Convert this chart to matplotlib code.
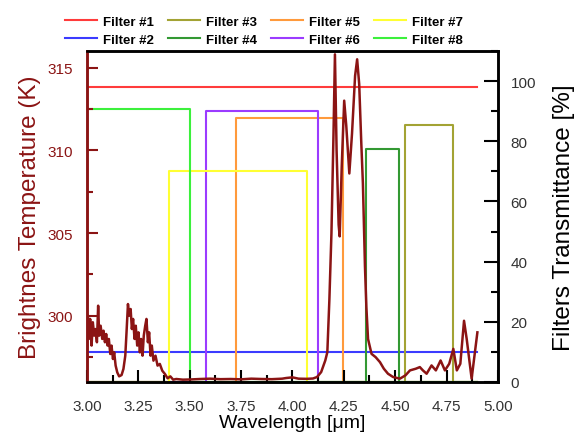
import matplotlib
matplotlib.use('Agg')
import matplotlib.pyplot as plt
from matplotlib.ticker import MultipleLocator

plt.rcParams['font.family'] = ['Liberation Sans', 'DejaVu Sans']

# ==== 亮温曲线 (um, K)
wl = [3.000, 3.005, 3.010, 3.016, 3.023, 3.029, 3.036, 3.042, 3.049, 3.055,
      3.060, 3.067, 3.075, 3.081, 3.088, 3.094, 3.101, 3.107, 3.114, 3.120,
      3.127, 3.133, 3.140, 3.148, 3.157, 3.169, 3.178, 3.187, 3.193, 3.200,
      3.206, 3.213, 3.219, 3.225, 3.232, 3.238, 3.245, 3.251, 3.258, 3.264,
      3.271, 3.277, 3.284, 3.290, 3.297, 3.303, 3.310, 3.316, 3.324, 3.334,
      3.344, 3.355, 3.367, 3.380, 3.393, 3.406, 3.420, 3.435, 3.467,
      3.50, 3.55, 3.60, 3.65, 3.70, 3.75, 3.80, 3.85, 3.90, 3.95, 3.97, 4.00,
      4.03, 4.07, 4.10, 4.12, 4.14, 4.16, 4.17, 4.18, 4.19, 4.20, 4.207,
      4.215, 4.225, 4.23, 4.24, 4.252, 4.262, 4.277, 4.29, 4.305, 4.315,
      4.325, 4.335, 4.343, 4.353, 4.36, 4.368, 4.385, 4.405, 4.426, 4.445,
      4.465, 4.49, 4.523, 4.55, 4.572, 4.60, 4.62, 4.635, 4.653, 4.677,
      4.698, 4.721, 4.742, 4.763, 4.783, 4.80, 4.817, 4.835, 4.848, 4.872,
      4.90]
tb = [297.99, 300.01, 298.60, 299.81, 298.20, 299.61, 298.80, 299.20, 298.40, 300.61,
      298.80, 299.40, 298.60, 299.10, 298.40, 298.90, 298.20, 298.60, 297.69, 298.20,
      297.39, 297.79, 296.99, 296.58, 296.34, 296.42, 296.79, 297.59, 299.00, 300.71,
      300.01, 300.41, 299.20, 299.81, 298.60, 299.40, 298.20, 299.00, 297.79, 298.60,
      297.59, 298.80, 299.40, 299.81, 298.40, 299.00, 297.59, 298.20, 297.29, 297.59,
      296.99, 297.09, 296.68, 296.48, 296.22, 296.34, 296.14, 296.18, 296.14,
      296.15, 296.18, 296.20, 296.17, 296.18, 296.16, 296.20, 296.18, 296.17, 296.20, 296.24, 296.28,
      296.20, 296.19, 296.21, 296.30, 296.60, 297.30, 297.80, 301.00, 305.00, 311.00, 315.80,
      310.00, 305.50, 304.80, 309.00, 313.00, 311.50, 308.60, 311.00, 314.50, 315.50,
      314.00, 310.50, 308.00, 303.00, 300.50, 298.60, 297.70, 297.50, 297.20, 296.80,
      296.50, 296.30, 296.20, 296.40, 296.70, 296.80, 296.90, 296.70, 296.50, 297.00,
      296.70, 297.30, 296.70, 297.10, 298.00, 296.70, 297.10, 299.70, 298.60, 296.20,
      299.00]

# ==== 滤光片 (起点, 终点, 透过率%)
filter_names = ['Filter #1', 'Filter #2', 'Filter #3', 'Filter #4',
                'Filter #5', 'Filter #6', 'Filter #7', 'Filter #8']
filter_colors = ['#ff3b3b', '#3b3bff', '#a3a334', '#339933',
                 '#ff9a3c', '#9b3bff', '#ffff33', '#3cf03c']
flat_levels = {'Filter #1': 98.0, 'Filter #2': 10.0}
band_start = {'Filter #3': 4.55, 'Filter #4': 4.36, 'Filter #5': 3.725,
              'Filter #6': 3.58, 'Filter #7': 3.40, 'Filter #8': 3.00}
band_end = {'Filter #3': 4.78, 'Filter #4': 4.52, 'Filter #5': 4.245,
            'Filter #6': 4.125, 'Filter #7': 4.07, 'Filter #8': 3.50}
band_level = {'Filter #3': 85.5, 'Filter #4': 77.4, 'Filter #5': 87.7,
              'Filter #6': 90.1, 'Filter #7': 70.0, 'Filter #8': 90.7}
x_min, x_max = 3.0, 4.9

fig = plt.figure(figsize=(5.79, 4.39), dpi=100)
ax = fig.add_axes([0.150, 0.1276, 0.710, 0.7539])
ax2 = ax.twinx()

dark_red = '#8b1414'

handles = []
for name, c in zip(filter_names, filter_colors):
    if name in flat_levels:
        xs = [x_min, x_max]
        ys = [flat_levels[name]] * 2
    elif band_start[name] <= x_min:
        xs = [x_min, band_end[name], band_end[name], x_max]
        ys = [band_level[name], band_level[name], 0, 0]
    else:
        xs = [x_min, band_start[name], band_start[name], band_end[name], band_end[name], x_max]
        ys = [0, 0, band_level[name], band_level[name], 0, 0]
    h, = ax2.plot(xs, ys, color=c, lw=1.5, label=name)
    handles.append(h)

ax.plot(wl, tb, color=dark_red, lw=1.8, zorder=5)
ax.set_zorder(ax2.get_zorder() + 1)
ax.patch.set_visible(False)

ax.set_xlim(3.0, 5.0)
ax.set_ylim(296, 316)
ax2.set_ylim(0, 110)

ax.xaxis.set_major_locator(MultipleLocator(0.25))
ax.xaxis.set_minor_locator(MultipleLocator(0.125))
ax.yaxis.set_major_locator(MultipleLocator(5))
ax.yaxis.set_minor_locator(MultipleLocator(2.5))
ax2.yaxis.set_major_locator(MultipleLocator(20))
ax2.yaxis.set_minor_locator(MultipleLocator(10))
ax.xaxis.set_major_formatter(plt.FormatStrFormatter('%.2f'))

ax.tick_params(axis='x', which='major', direction='in', length=9, width=1.5,
               labelsize=11, labelcolor='#333333', pad=12)
ax.tick_params(axis='x', which='minor', direction='in', length=5, width=1.5)
ax.tick_params(axis='y', which='major', direction='in', length=8, width=1.5,
               color=dark_red, labelsize=11, labelcolor=dark_red, pad=10)
ax.tick_params(axis='y', which='minor', direction='in', length=4, width=1.5, color=dark_red)
ax.tick_params(top=False, right=False, which='both')
ax2.tick_params(axis='y', which='major', direction='in', length=10, width=1.5,
                labelsize=11, labelcolor='#333333', pad=9)
ax2.tick_params(axis='y', which='minor', direction='in', length=5, width=1.5)

for a in (ax, ax2):
    for s in a.spines.values():
        s.set_linewidth(1.8)
ax.spines['left'].set_color(dark_red)
ax2.spines['left'].set_color(dark_red)

ax.set_xlabel('Wavelength [\u03bcm]', fontsize=14, labelpad=1)
ax.set_ylabel('Brightnes Temperature (K)', fontsize=17.5, color=dark_red, labelpad=5)
ax2.set_ylabel('Filters Transmittance [%]', fontsize=17.5, labelpad=12)

fig.legend(handles=handles, ncol=4, loc='upper center', bbox_to_anchor=(0.456, 0.99),
           frameon=False, prop={'weight': 'bold', 'size': 9.5}, handlelength=2.45,
           columnspacing=1.05, handletextpad=0.45, labelspacing=0.45)

fig.savefig('out.png', dpi=100)
